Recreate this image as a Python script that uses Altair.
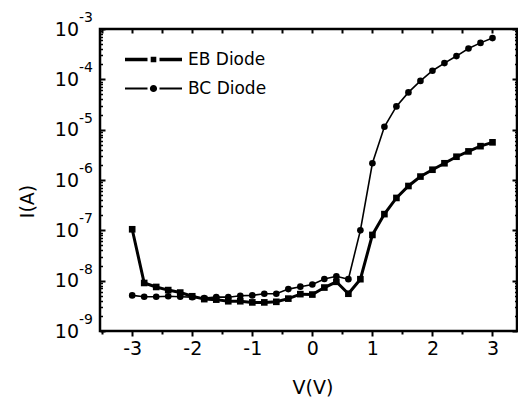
import altair as alt
import pandas as pd

# ---- data ----
V = [-3.0, -2.8, -2.6, -2.4, -2.2, -2.0, -1.8, -1.6, -1.4, -1.2, -1.0,
     -0.8, -0.6, -0.4, -0.2, 0.0, 0.2, 0.4, 0.6, 0.8, 1.0,
     1.2, 1.4, 1.6, 1.8, 2.0, 2.2, 2.4, 2.6, 2.8, 3.0]
EB = [1.05e-7, 9.0e-9, 7.5e-9, 6.5e-9, 5.8e-9, 4.9e-9, 4.3e-9, 4.2e-9, 3.9e-9, 3.9e-9, 3.7e-9,
      3.7e-9, 3.8e-9, 4.4e-9, 5.4e-9, 5.3e-9, 7.3e-9, 9.5e-9, 5.5e-9, 1.07e-8, 8.1e-8,
      2.1e-7, 4.4e-7, 7.6e-7, 1.17e-6, 1.6e-6, 2.15e-6, 2.9e-6, 3.7e-6, 4.7e-6, 5.6e-6]
BC = [5.1e-9, 4.8e-9, 4.8e-9, 4.9e-9, 4.8e-9, 4.7e-9, 4.5e-9, 4.7e-9, 4.7e-9, 5.0e-9, 5.1e-9,
      5.5e-9, 5.5e-9, 6.8e-9, 7.6e-9, 8.4e-9, 1.08e-8, 1.22e-8, 1.07e-8, 1.0e-7, 2.15e-6,
      1.14e-5, 2.9e-5, 5.5e-5, 9.3e-5, 1.48e-4, 2.1e-4, 2.9e-4, 4.1e-4, 5.3e-4, 6.6e-4]
SERIES = ["EB Diode", "BC Diode"]
X_TICKS = [-3, -2, -1, 0, 1, 2, 3]
X_MINOR = [-3.5, -2.5, -1.5, -0.5, 0.5, 1.5, 2.5]
X_TOP = [-3.5, -3, -2.5, -2, -1.5, -1, -0.5, 0, 0.5, 1, 1.5, 2, 2.5, 3]
Y_DECADES = [1e-9, 1e-8, 1e-7, 1e-6, 1e-5, 1e-4, 1e-3]
Y_MINOR = [k * d for d in Y_DECADES[:-1] for k in range(2, 10)]

df = pd.DataFrame({
    "V": V + V,
    "I": EB + BC,
    "series": [SERIES[0]] * len(V) + [SERIES[1]] * len(V),
})

FONT = "DejaVu Sans"
W, H = 417, 302

# legend symbol paths (line - marker - line)
P_EB = ("M-5.7,-0.33 H-1.2 V0.33 H-5.7 Z "
        "M-0.56,-0.56 H0.56 V0.56 H-0.56 Z "
        "M1.2,-0.33 H5.7 V0.33 H1.2 Z")
P_BC = ("M-5.7,-0.2 H-1.2 V0.2 H-5.7 Z "
        "M0.72,0 A0.72,0.72 0 1,1 -0.72,0 A0.72,0.72 0 1,1 0.72,0 Z "
        "M1.2,-0.2 H5.7 V0.2 H1.2 Z")

xs = alt.Scale(domain=[-3.536, 3.408], nice=False, zero=False)
ys = alt.Scale(type="log", domain=[1e-9, 1e-3], nice=False)

base = alt.Chart(df)

# Layer A: lines; bottom major ticks + labels, left "10" labels
lines = base.mark_line(color="black").encode(
    x=alt.X("V:Q", scale=xs, axis=alt.Axis(
        orient="bottom", values=X_TICKS, domain=False, grid=False,
        tickSize=5, tickWidth=2, tickColor="black",
        labelExpr="toString(datum.value)", labelFont=FONT, labelFontSize=19,
        labelColor="black", labelPadding=3, labelOverlap=False,
        title="V(V)", titleFont=FONT, titleFontSize=19, titleFontWeight="normal",
        titleColor="black", titleBaseline="alphabetic", titleY=62,
        titleX=212.5)),
    y=alt.Y("I:Q", scale=ys, axis=alt.Axis(
        orient="left", values=Y_DECADES, domain=False, grid=False,
        ticks=False, tickSize=0, labelExpr="'10'", labelFont=FONT,
        labelFontSize=19, labelColor="black", labelPadding=21.5,
        labelBaseline="middle", labelOverlap=False, labelFlush=False,
        title="I(A)", titleFont=FONT, titleFontSize=19, titleFontWeight="normal",
        titleColor="black", titleX=-73, titleY=172, titleAlign="center",
        titleBaseline="middle", titleAngle=270)),
    detail="series:N",
    order="V:Q",
    strokeWidth=alt.StrokeWidth("series:N", scale=alt.Scale(domain=SERIES, range=[3.0, 1.6]), legend=None),
)

# Layer B: markers; bottom minor ticks, left exponent labels
points = base.mark_point(filled=True, size=44, color="black", opacity=1).encode(
    x=alt.X("V:Q", scale=xs, axis=alt.Axis(
        orient="bottom", values=X_MINOR, domain=False, grid=False,
        tickSize=3, tickWidth=2, tickColor="black", labels=False, title=None)),
    y=alt.Y("I:Q", scale=ys, axis=alt.Axis(
        orient="left", values=Y_DECADES, domain=False, grid=False,
        ticks=False, tickSize=0,
        labelExpr="toString(round(log(datum.value)/LN10))", labelFont=FONT,
        labelFontSize=14, labelColor="black", labelPadding=7.5,
        labelBaseline="middle", labelOffset=-11.5, labelOverlap=False,
        labelFlush=False, title=None)),
    shape=alt.Shape("series:N", scale=alt.Scale(domain=SERIES, range=["square", "circle"]), legend=None),
)

# Layer C: legend carrier; top ticks inward, left-edge major ticks inward
legend_layer = base.mark_point(filled=True, size=44, color="black", opacity=0).encode(
    x=alt.X("V:Q", scale=xs, axis=alt.Axis(
        orient="bottom", offset=-H, values=X_TOP, domain=False, grid=False,
        tickSize=4, tickWidth=2, tickColor="black", labels=False, title=None)),
    y=alt.Y("I:Q", scale=ys, axis=alt.Axis(
        orient="right", offset=-W, values=Y_DECADES, domain=False, grid=False,
        tickSize=5, tickWidth=2, tickColor="black", labels=False, title=None)),
    shape=alt.Shape("series:N", scale=alt.Scale(domain=SERIES, range=[P_EB, P_BC]),
                    legend=alt.Legend(
                        title=None, orient="none", legendX=45, legendY=22,
                        padding=0, symbolSize=100, symbolFillColor="black",
                        symbolStrokeColor="black", symbolStrokeWidth=0,
                        symbolOpacity=1, labelFont=FONT, labelFontSize=17,
                        labelColor="black", labelOffset=26, rowPadding=11)),
)

# Layer D: left-edge minor ticks inward
left_minor = base.mark_point(opacity=0).encode(
    x=alt.X("V:Q", scale=xs, axis=None),
    y=alt.Y("I:Q", scale=ys, axis=alt.Axis(
        orient="right", offset=-W, values=Y_MINOR, domain=False, grid=False,
        tickSize=2.5, tickWidth=1.5, tickColor="black", labels=False, title=None)),
)

# Layer E: right-edge major ticks inward
right_major = base.mark_point(opacity=0).encode(
    x=alt.X("V:Q", scale=xs, axis=None),
    y=alt.Y("I:Q", scale=ys, axis=alt.Axis(
        orient="left", offset=-W, values=Y_DECADES, domain=False, grid=False,
        tickSize=5, tickWidth=2, tickColor="black", labels=False, title=None)),
)

# Layer F: right-edge minor ticks inward
right_minor = base.mark_point(opacity=0).encode(
    x=alt.X("V:Q", scale=xs, axis=None),
    y=alt.Y("I:Q", scale=ys, axis=alt.Axis(
        orient="left", offset=-W, values=Y_MINOR, domain=False, grid=False,
        tickSize=2.5, tickWidth=1.5, tickColor="black", labels=False, title=None)),
)

chart = alt.layer(lines, points, legend_layer, left_minor, right_major, right_minor).resolve_scale(
    shape="independent"
).resolve_axis(
    x="independent", y="independent"
).properties(
    width=W, height=H,
    background="white",
    autosize=alt.AutoSizeParams(type="none"),
    padding={"left": 92, "top": 21, "right": 1, "bottom": 68},
).configure_view(
    stroke="black", strokeWidth=2.5
)

chart.save("out.html", embed_options={"renderer": "svg", "actions": False})
